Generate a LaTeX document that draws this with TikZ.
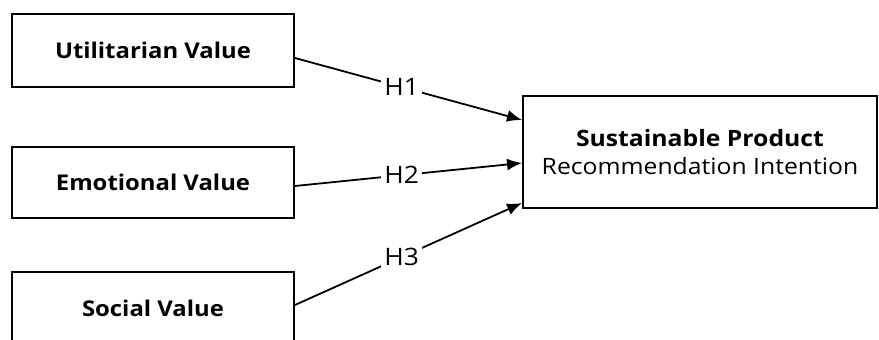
\documentclass[tikz,border=0pt]{standalone}
\usepackage{fontspec}
\setmainfont{Open Sans}[FakeStretch=1.1]
\usetikzlibrary{arrows.meta}
\begin{document}
\begin{tikzpicture}[x=1pt,y=1pt,
  box/.style={draw, line width=1.9pt, minimum width=282pt, inner sep=0pt, font=\bfseries\fontsize{21.7}{26}\selectfont},
  tbox/.style={draw, line width=1.9pt, minimum width=354pt, minimum height=112pt, inner sep=0pt, align=center, font=\fontsize{22.5}{28}\selectfont},
  arr/.style={-{Latex[length=15pt,width=12pt]}, line width=1.8pt},
  lab/.style={fill=white, inner sep=3pt, font=\fontsize{24}{26}\selectfont}]
\useasboundingbox (0,0) rectangle (879,340);
\clip (0,0) rectangle (879,340);
\node[box, minimum height=73pt] (u) at (153,289.5) {Utilitarian Value};
\node[box, minimum height=71pt] (e) at (153,157.5) {Emotional Value};
\node[box, minimum height=73pt] (s) at (153,31.5) {Social Value};
\node[tbox] (t) at (700,188) {\textbf{Sustainable Product}\\Recommendation Intention};
\draw[arr] ([yshift=-7.5pt]u.east) -- node[lab, pos=0.47] {H1} ([yshift=32pt]t.west);
\draw[arr] ([yshift=-3.5pt]e.east) -- node[lab, pos=0.47] {H2} ([yshift=-11pt]t.west);
\draw[arr] ([yshift=3.5pt]s.east) -- node[lab, pos=0.47] {H3} ([yshift=-51pt]t.west);
\end{tikzpicture}
\end{document}
